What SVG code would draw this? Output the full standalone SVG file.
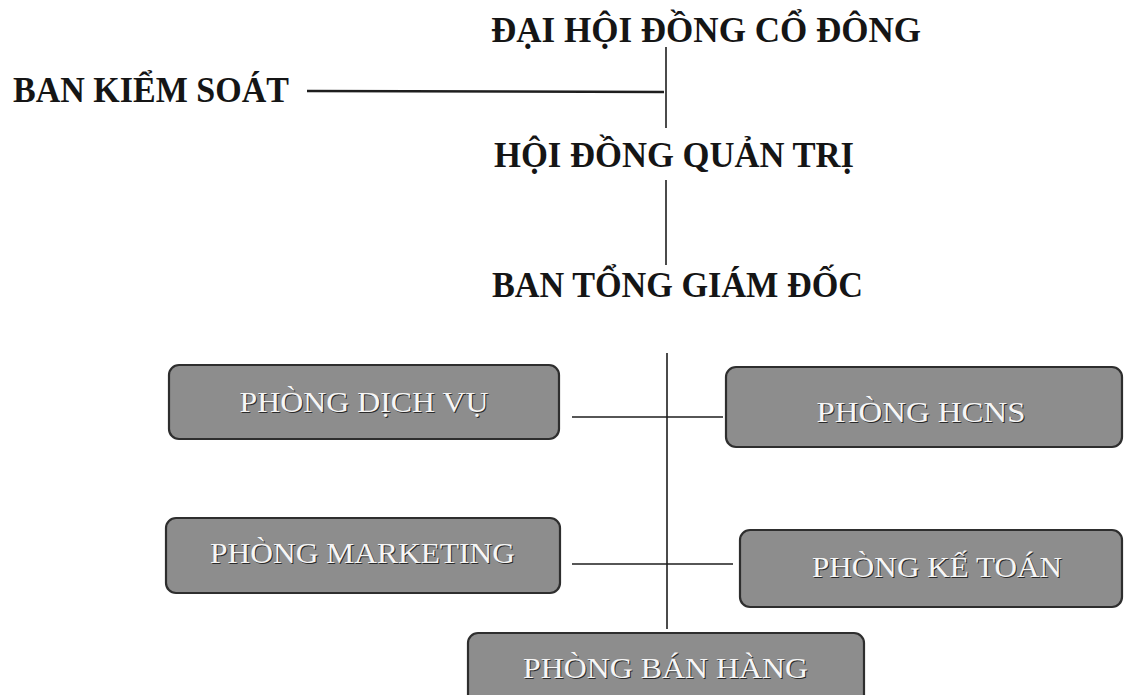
<svg xmlns="http://www.w3.org/2000/svg" width="1128" height="695" viewBox="0 0 1128 695">
<style>
.title{font-family:"Liberation Serif","Times New Roman",serif;font-weight:bold;font-size:35px;fill:#151515}
.box{fill:#8d8d8d;stroke:#2e2e2e;stroke-width:2.2}
.lbl{font-family:"Liberation Serif","Times New Roman",serif;font-size:29px;text-anchor:middle}
.sh{fill:#2a2a2a}
.hi{fill:#f6f6f6}
.ln{stroke:#1e1e1e;stroke-width:1.6;fill:none}
</style>
<rect width="1128" height="695" fill="#ffffff"/>
<g id="connectors">
<line class="ln" x1="666" y1="47" x2="666" y2="128"/>
<line class="ln" x1="307" y1="91" x2="664" y2="92" style="stroke-width:2.6"/>
<line class="ln" x1="666" y1="180" x2="666" y2="265"/>
<line class="ln" x1="667" y1="353" x2="667" y2="629"/>
<line class="ln" x1="572" y1="417" x2="723" y2="417"/>
<line class="ln" x1="572" y1="564" x2="733" y2="564"/>
</g>
<g id="n-dhdcd"><text class="title" x="491" y="42" textLength="430" lengthAdjust="spacingAndGlyphs">ĐẠI HỘI ĐỒNG CỔ ĐÔNG</text></g>
<g id="n-bks"><text class="title" x="13" y="102" textLength="276" lengthAdjust="spacingAndGlyphs">BAN KIỂM SOÁT</text></g>
<g id="n-hdqt"><text class="title" x="494" y="167" textLength="360" lengthAdjust="spacingAndGlyphs">HỘI ĐỒNG QUẢN TRỊ</text></g>
<g id="n-btgd"><text class="title" x="492" y="297" textLength="371" lengthAdjust="spacingAndGlyphs">BAN TỔNG GIÁM ĐỐC</text></g>
<g id="n-pdv">
<rect class="box" x="169" y="365" width="390" height="74" rx="10"/>
<text class="lbl sh" x="365" y="413" textLength="249" lengthAdjust="spacingAndGlyphs">PHÒNG DỊCH VỤ</text>
<text class="lbl hi" x="364" y="412" textLength="249" lengthAdjust="spacingAndGlyphs">PHÒNG DỊCH VỤ</text>
</g>
<g id="n-hcns">
<rect class="box" x="726" y="367" width="396" height="80" rx="10"/>
<text class="lbl sh" x="922" y="423" textLength="209" lengthAdjust="spacingAndGlyphs">PHÒNG HCNS</text>
<text class="lbl hi" x="921" y="422" textLength="209" lengthAdjust="spacingAndGlyphs">PHÒNG HCNS</text>
</g>
<g id="n-mkt">
<rect class="box" x="166" y="518" width="394" height="75" rx="10"/>
<text class="lbl sh" x="363.5" y="564" textLength="305" lengthAdjust="spacingAndGlyphs">PHÒNG MARKETING</text>
<text class="lbl hi" x="362.5" y="563" textLength="305" lengthAdjust="spacingAndGlyphs">PHÒNG MARKETING</text>
</g>
<g id="n-kt">
<rect class="box" x="740" y="530" width="382" height="77" rx="10"/>
<text class="lbl sh" x="938" y="578" textLength="250" lengthAdjust="spacingAndGlyphs">PHÒNG KẾ TOÁN</text>
<text class="lbl hi" x="937" y="577" textLength="250" lengthAdjust="spacingAndGlyphs">PHÒNG KẾ TOÁN</text>
</g>
<g id="n-bh">
<rect class="box" x="468" y="633" width="396" height="75" rx="10"/>
<text class="lbl sh" x="666.5" y="679" textLength="285" lengthAdjust="spacingAndGlyphs">PHÒNG BÁN HÀNG</text>
<text class="lbl hi" x="665.5" y="678" textLength="285" lengthAdjust="spacingAndGlyphs">PHÒNG BÁN HÀNG</text>
</g>
</svg>
